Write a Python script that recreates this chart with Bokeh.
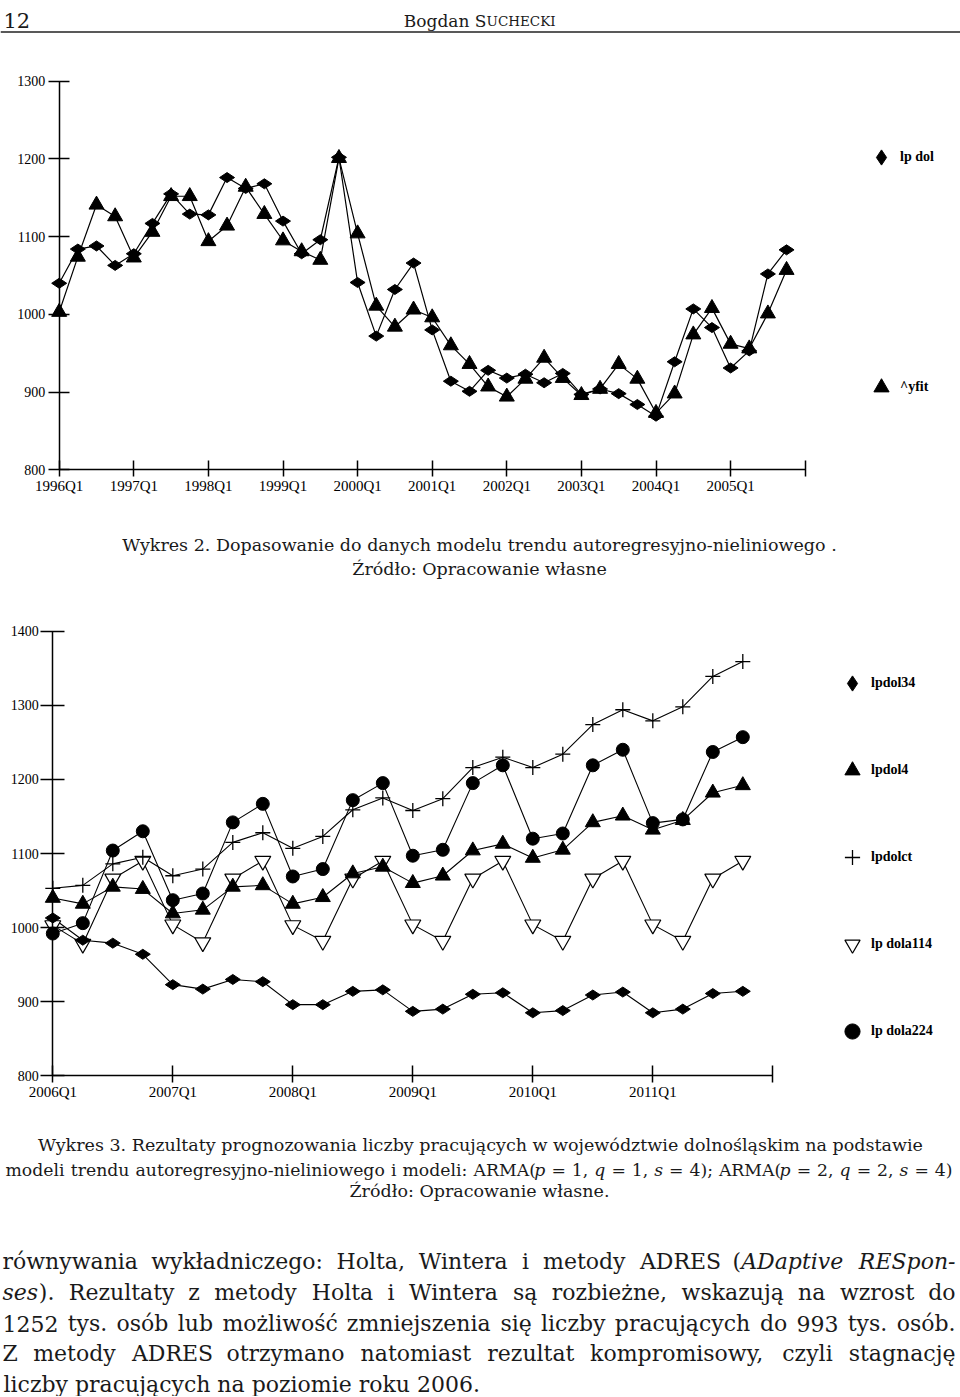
import math
from bokeh.plotting import figure
from bokeh.models import Range1d, FixedTicker, Legend, LegendItem, ColumnDataSource, Span
from bokeh.layouts import column
from bokeh.embed import file_html
from bokeh.resources import INLINE
from bokeh.core.properties import value

# ---------------- data: Wykres 2 ----------------
c1_tick_labels = ["1996Q1", "1997Q1", "1998Q1", "1999Q1", "2000Q1",
                  "2001Q1", "2002Q1", "2003Q1", "2004Q1", "2005Q1"]
c1_lp_dol = [1040, 1084, 1088, 1063, 1078, 1117, 1155, 1129, 1128, 1176,
             1162, 1168, 1120, 1078, 1096, 1202, 1041, 972, 1032, 1066,
             980, 914, 901, 928, 918, 923, 912, 924, 897, 904,
             898, 884, 869, 939, 1007, 983, 931, 953, 1052, 1083]
c1_yfit = [1003, 1074, 1141, 1126, 1073, 1106, 1152, 1152, 1094, 1114,
           1164, 1129, 1095, 1081, 1070, 1201, 1104, 1011, 984, 1006,
           996, 960, 936, 907, 894, 917, 944, 918, 896, 904,
           936, 917, 873, 898, 974, 1008, 962, 956, 1001, 1057]
c1_yticks = [800, 900, 1000, 1100, 1200, 1300]
c1_legend = ["lp dol", "^yfit"]

# ---------------- data: Wykres 3 ----------------
c2_tick_labels = ["2006Q1", "2007Q1", "2008Q1", "2009Q1", "2010Q1", "2011Q1"]
c2_lpdol34 = [1013, 983, 979, 964, 923, 917, 930, 927, 896, 896, 914, 916,
              887, 890, 910, 912, 885, 888, 909, 913, 885, 890, 911, 914]
c2_lpdol4 = [1040, 1032, 1055, 1052, 1019, 1024, 1055, 1057, 1032, 1041, 1073, 1082,
             1060, 1070, 1104, 1113, 1094, 1105, 1142, 1151, 1132, 1145, 1182, 1192]
c2_lpdolct = [1053, 1057, 1086, 1095, 1070, 1079, 1115, 1128, 1107, 1123, 1159, 1175,
              1158, 1174, 1216, 1230, 1216, 1234, 1274, 1294, 1279, 1298, 1339, 1359]
c2_lpdola114 = [1003, 978, 1066, 1090, 1004, 980, 1066, 1090, 1003, 982, 1066, 1090,
                1004, 982, 1066, 1090, 1004, 982, 1066, 1090, 1004, 982, 1066, 1090]
c2_lpdola224 = [992, 1006, 1104, 1130, 1037, 1046, 1142, 1167, 1069, 1079, 1172, 1195,
                1097, 1105, 1195, 1219, 1120, 1127, 1219, 1240, 1141, 1146, 1237, 1257]
c2_yticks = [800, 900, 1000, 1100, 1200, 1300, 1400]
c2_legend = ["lpdol34", "lpdol4", "lpdolct", "lp dola114", "lp dola224"]

# ---------------- page texts ----------------
header_page = "12"
header_author = ["Bogdan S", "UCHECKI"]
caption1 = ["Wykres 2. Dopasowanie do danych modelu trendu autoregresyjno-nieliniowego .",
            "Źródło: Opracowanie własne"]
caption2 = ["Wykres 3. Rezultaty prognozowania liczby pracujących w województwie dolnośląskim na podstawie",
            "modeli trendu autoregresyjno-nieliniowego i modeli: ARMA(*p* = 1, *q* = 1, *s* = 4);  ARMA(*p* = 2, *q* = 2, *s* = 4)",
            "Źródło: Opracowanie własne."]
body = ["równywania wykładniczego: Holta, Wintera i metody ADRES (*ADaptive RESpon-*",
        "*ses*). Rezultaty z metody Holta i Wintera są rozbieżne, wskazują na wzrost do",
        "1252 tys. osób lub możliwość zmniejszenia się liczby pracujących do 993 tys. osób.",
        "Z metody ADRES otrzymano natomiast rezultat kompromisowy, czyli stagnację",
        "liczby pracujących na poziomie roku 2006."]

FW = 960
SERIF = "DejaVu Serif"
TICKFONT = "Liberation Serif"
INK = "#1a1a1a"

# ---------------- text layout helpers ----------------
_W = {' ': 0.318, 'a': 0.596, 'b': 0.643, 'c': 0.559, 'd': 0.643, 'e': 0.592, 'f': 0.370,
      'g': 0.643, 'h': 0.648, 'i': 0.320, 'j': 0.320, 'k': 0.608, 'l': 0.320, 'm': 0.965,
      'n': 0.648, 'o': 0.602, 'p': 0.643, 'q': 0.643, 'r': 0.478, 's': 0.513, 't': 0.401,
      'u': 0.648, 'v': 0.569, 'w': 0.834, 'x': 0.569, 'y': 0.569, 'z': 0.523,
      '.': 0.318, ',': 0.318, ':': 0.337, ';': 0.337, '(': 0.390, ')': 0.390, '-': 0.338,
      '=': 0.838, 'I': 0.40, 'W': 1.03, 'M': 0.96, 'Z': 0.68, 'A': 0.72, 'D': 0.79,
      'R': 0.72, 'E': 0.67, 'S': 0.68, 'H': 0.87, 'P': 0.66}
_ALIAS = {'ó': 'o', 'ł': 'l', 'ą': 'a', 'ę': 'e', 'ś': 's', 'ż': 'z', 'ź': 'z',
          'ć': 'c', 'ń': 'n', 'Ź': 'Z'}


def est(s, italic, size):
    tot = 0.0
    for ch in s:
        b = _ALIAS.get(ch, ch)
        if b in _W:
            w = _W[b]
        elif b.isdigit():
            w = 0.636
        elif b.isupper():
            w = 0.72
        else:
            w = 0.6
        tot += w
    return tot * size * (1.02 if italic else 1.0)


def parse(line):
    words, italic = [], False
    for tok in line.split():
        pieces = []
        for j, part in enumerate(tok.split("*")):
            if j > 0:
                italic = not italic
            if part:
                pieces.append((part, italic))
        words.append(pieces)
    return words


def justified(line, x0, x1, y, size, out):
    words = parse(line)
    ww = [sum(est(t, i, size) for t, i in w) for w in words]
    sp = est(" ", False, size)
    natural = sum(ww) + sp * (len(words) - 1)
    if natural > (x1 - x0):
        size = size * (x1 - x0) / natural * 0.99
        ww = [sum(est(t, i, size) for t, i in w) for w in words]
    gap = (x1 - x0 - sum(ww)) / (len(words) - 1)
    x = x0
    for k, w in enumerate(words):
        if k == len(words) - 1:
            xr = x1
            for t, it in reversed(w):
                out.append((xr, y, t, it, "right", size))
                xr -= est(t, it, size)
        else:
            xp = x
            for t, it in w:
                out.append((xp, y, t, it, "left", size))
                xp += est(t, it, size)
            x += ww[k] + gap


def draw_pieces(p, pieces):
    groups = {}
    for x, y, t, it, al, sz in pieces:
        groups.setdefault((it, al, round(sz, 2)), []).append((x, y, t))
    for (it, al, sz), rows in groups.items():
        src = ColumnDataSource(dict(x=[r[0] for r in rows], y=[r[1] for r in rows],
                                    text=[r[2] for r in rows]))
        p.text(x="x", y="y", text="text", source=src, text_font=value(SERIF),
               text_font_size=value(f"{sz}px"), text_font_style="italic" if it else "normal",
               text_align=al, text_baseline="alphabetic", text_color=INK)


def text_fig(h):
    p = figure(width=FW, height=h, x_range=Range1d(0, FW), y_range=Range1d(h, 0),
               toolbar_location=None, output_backend="svg",
               x_axis_location=None, y_axis_location=None, min_border=0,
               min_border_left=0, min_border_right=0)
    p.grid.visible = False
    p.outline_line_color = None
    return p


# ---------------- chart helper ----------------
# The frame covers the whole figure; both axes are pinned to (0, ymin) in data
# space, and the ranges are chosen so that data map to the reference pixels.
def chart(n_q, tick_labels, yticks, height, x0_px, ppu_x, ytop_px, ybot_px, xt, yt):
    ppu_y = (ybot_px - ytop_px) / (yticks[-1] - yticks[0])
    p = figure(width=FW, height=height,
               x_range=Range1d(-x0_px / ppu_x, (FW - x0_px) / ppu_x),
               y_range=Range1d(yticks[0] - (height - ybot_px) / ppu_y,
                               yticks[-1] + ytop_px / ppu_y),
               min_border=0, min_border_left=0, min_border_right=0,
               min_border_top=0, min_border_bottom=0,
               toolbar_location=None, output_backend="svg")
    p.grid.visible = False
    p.outline_line_color = None
    xa, ya = p.xaxis[0], p.yaxis[0]
    ticks = [4 * k for k in range(len(tick_labels) + 1)]
    xa.ticker = FixedTicker(ticks=ticks)
    ov = {4 * k: lab for k, lab in enumerate(tick_labels)}
    ov[ticks[-1]] = ""
    xa.major_label_overrides = ov
    xa.bounds = (0, n_q)
    xa.fixed_location = yticks[0]
    ya.ticker = FixedTicker(ticks=yticks)
    ya.bounds = (yticks[0], yticks[-1])
    ya.fixed_location = 0
    for ax, (tin, tout, stand, fs) in ((xa, xt), (ya, yt)):
        ax.axis_line_color = "black"
        ax.axis_line_width = 1.5
        ax.major_tick_line_color = "black"
        ax.major_tick_line_width = 1.5
        ax.minor_tick_line_color = None
        ax.major_tick_in = tin
        ax.major_tick_out = tout
        ax.major_label_standoff = stand
        ax.major_label_text_font = TICKFONT
        ax.major_label_text_font_size = fs
        ax.major_label_text_color = "black"
    return p


def add_legend(p, items, loc, spacing):
    leg = Legend(items=[LegendItem(label=lab, renderers=[r]) for lab, r in items],
                 location=loc, orientation="vertical", glyph_width=38, glyph_height=38,
                 label_height=38, label_standoff=0, spacing=spacing, padding=0, margin=0,
                 border_line_color=None, background_fill_alpha=0,
                 label_text_font=TICKFONT, label_text_font_size="14px",
                 label_text_font_style="bold", label_text_color="black")
    p.add_layout(leg)


# ---------------- header ----------------
head = text_fig(40)
draw_pieces(head, [(3, 20, header_page, False, "left", 21)])
draw_pieces(head, [(486, 20, header_author[0], False, "right", 17)])
draw_pieces(head, [(486, 20, header_author[1], False, "left", 13.5)])
head.add_layout(Span(location=31.5, dimension="width", line_color="#222", line_width=1.6))

# ---------------- chart 1 (page y 40..515) ----------------
p1 = chart(40, c1_tick_labels, c1_yticks, 475, 58.7, 18.65, 40.7, 429.3,
           (9, 7, 1, "15px"), (10, 11, 3, "14px"))
s1 = ColumnDataSource(dict(q=list(range(len(c1_lp_dol))), lp_dol=c1_lp_dol, yfit=c1_yfit))
p1.line("q", "lp_dol", source=s1, line_color="black", line_width=1.2)
p1.line("q", "yfit", source=s1, line_color="black", line_width=1.2)
r1a = p1.scatter("q", "lp_dol", source=s1, marker="diamond", size=15, angle=math.pi / 2,
                 fill_color="black", line_color="black")
r1b = p1.scatter("q", "yfit", source=s1, marker="triangle", size=15,
                 fill_color="black", line_color="black")
add_legend(p1, list(zip(c1_legend, [r1a, r1b])), (862, 475 - 405.7 + 40), 192)

# ---------------- caption 1 ----------------
cap1 = text_fig(80)
draw_pieces(cap1, [(479, 29, caption1[0], False, "center", 17.5),
                   (479, 53, caption1[1], False, "center", 17.5)])

# ---------------- chart 2 (page y 595..1110) ----------------
p2 = chart(24, c2_tick_labels, c2_yticks, 515, 52.3, 30.0, 35.7, 480.3,
           (10, 7, 1, "15px"), (12, 12, 2, "14px"))
s2 = ColumnDataSource(dict(q=list(range(len(c2_lpdol34))), a=c2_lpdol34, b=c2_lpdol4,
                           c=c2_lpdolct, d=c2_lpdola114, e=c2_lpdola224))
for col in ["a", "b", "c", "d", "e"]:
    p2.line("q", col, source=s2, line_color="black", line_width=1.1)
r2d = p2.scatter("q", "d", source=s2, marker="inverted_triangle", size=16,
                 fill_color="white", line_color="black", line_width=1.2)
r2c = p2.scatter("q", "c", source=s2, marker="cross", size=15,
                 line_color="black", line_width=1.3)
r2b = p2.scatter("q", "b", source=s2, marker="triangle", size=15,
                 fill_color="black", line_color="black")
r2e = p2.scatter("q", "e", source=s2, marker="circle", size=13,
                 fill_color="black", line_color="black")
r2a = p2.scatter("q", "a", source=s2, marker="diamond", size=15, angle=math.pi / 2,
                 fill_color="black", line_color="black")
add_legend(p2, list(zip(c2_legend, [r2a, r2b, r2c, r2d, r2e])), (833, 515 - 1050 + 595), 49)

# ---------------- caption 2 + body ----------------
bot = text_fig(286)
pieces = [(480, 34, caption2[0], False, "center", 17.5)]
justified(caption2[1], 5, 952, 59, 17.5, pieces)
pieces.append((479, 80, caption2[2], False, "center", 17.5))
body_y = [151, 182, 213, 243, 274]
for k, line in enumerate(body):
    if k < len(body) - 1:
        justified(line, 2, 955, body_y[k], 22, pieces)
    else:
        pieces.append((3, body_y[k], line, False, "left", 22))
draw_pieces(bot, pieces)

layout = column(head, p1, cap1, p2, bot, spacing=0)
open("out.html", "w").write(file_html(layout, INLINE))
